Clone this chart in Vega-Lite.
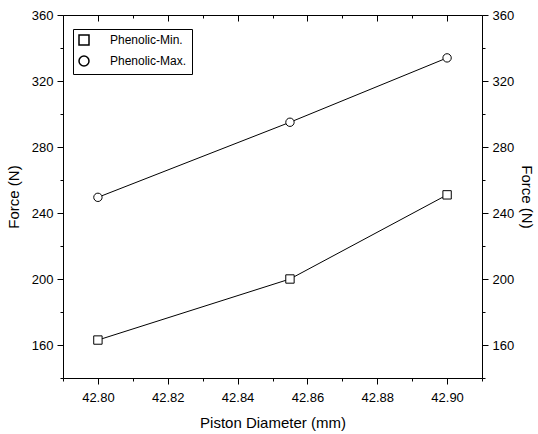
{
  "$schema": "https://vega.github.io/schema/vega-lite/v6.json",
  "width": 419,
  "height": 363,
  "autosize": {"type": "none"},
  "padding": {"left": 63, "top": 15, "right": 56, "bottom": 56},
  "background": "white",
  "config": {
    "view": {"stroke": null},
    "font": "Liberation Sans",
    "axis": {
      "domainColor": "black", "domainWidth": 1, "tickColor": "black", "tickWidth": 1,
      "labelColor": "black", "titleColor": "black", "labelFont": "Liberation Sans", "labelFontSize": 13,
      "titleFont": "Liberation Sans", "titleFontSize": 15, "titleFontWeight": "normal", "grid": false
    }
  },
  "data": {"values": [
    {"d": 42.80, "force": 163, "series": "Phenolic-Min."},
    {"d": 42.855, "force": 200, "series": "Phenolic-Min."},
    {"d": 42.90, "force": 251, "series": "Phenolic-Min."},
    {"d": 42.80, "force": 249.5, "series": "Phenolic-Max."},
    {"d": 42.855, "force": 295, "series": "Phenolic-Max."},
    {"d": 42.90, "force": 334, "series": "Phenolic-Max."}
  ]},
  "resolve": {"axis": {"x": "independent", "y": "independent"}},
  "layer": [
    {
      "mark": {"type": "line", "color": "black", "strokeWidth": 1},
      "encoding": {
        "x": {
          "field": "d", "type": "quantitative",
          "scale": {"domain": [42.79, 42.91], "zero": false, "nice": false},
          "axis": {
            "orient": "bottom",
            "values": [42.79, 42.8, 42.81, 42.82, 42.83, 42.84, 42.85, 42.86, 42.87, 42.88, 42.89, 42.9, 42.91],
            "labelExpr": "round(datum.value*100) % 2 === 0 ? format(datum.value, '.2f') : ''",
            "tickSize": {"condition": {"test": "round(datum.value*100) % 2 === 0", "value": 6}, "value": 3},
            "labelPadding": 7, "labelFlush": false, "labelOverlap": false,
            "title": "Piston Diameter (mm)", "titlePadding": 11
          }
        },
        "y": {
          "field": "force", "type": "quantitative",
          "scale": {"domain": [140, 360], "zero": false, "nice": false},
          "axis": {
            "orient": "left",
            "values": [140, 160, 180, 200, 220, 240, 260, 280, 300, 320, 340, 360],
            "labelExpr": "datum.value % 40 === 0 ? datum.label : ''",
            "tickSize": {"condition": {"test": "datum.value % 40 === 0", "value": 6}, "value": 3},
            "labelPadding": 4, "labelFlush": false, "labelOverlap": false,
            "title": "Force (N)", "titlePadding": 10
          }
        },
        "detail": {"field": "series"}
      }
    },
    {
      "mark": {"type": "point", "filled": false, "stroke": "black", "fill": "white", "strokeWidth": 1, "size": 70, "opacity": 1},
      "encoding": {
        "x": {
          "field": "d", "type": "quantitative",
          "axis": {
            "orient": "top",
            "values": [42.79, 42.8, 42.81, 42.82, 42.83, 42.84, 42.85, 42.86, 42.87, 42.88, 42.89, 42.9, 42.91],
            "labels": false, "title": null,
            "tickSize": {"condition": {"test": "round(datum.value*100) % 2 === 0", "value": -6}, "value": -3}
          }
        },
        "y": {
          "field": "force", "type": "quantitative",
          "axis": {
            "orient": "right",
            "values": [140, 160, 180, 200, 220, 240, 260, 280, 300, 320, 340, 360],
            "labelExpr": "datum.value % 40 === 0 ? datum.label : ''",
            "tickSize": {"condition": {"test": "datum.value % 40 === 0", "value": 6}, "value": 3},
            "labelPadding": 4, "labelFlush": false, "labelOverlap": false,
            "title": "Force (N)", "titleAngle": 90, "titlePadding": 5
          }
        },
        "shape": {
          "field": "series", "type": "nominal",
          "scale": {"domain": ["Phenolic-Min.", "Phenolic-Max."], "range": ["square", "circle"]},
          "legend": {
            "title": null, "orient": "none", "legendX": 10, "legendY": 14, "padding": 5,
            "strokeColor": "black", "fillColor": "white",
            "labelFont": "Liberation Sans", "labelFontSize": 12, "labelColor": "black",
            "labelOffset": 20, "rowPadding": 5
          }
        }
      }
    }
  ]
}
